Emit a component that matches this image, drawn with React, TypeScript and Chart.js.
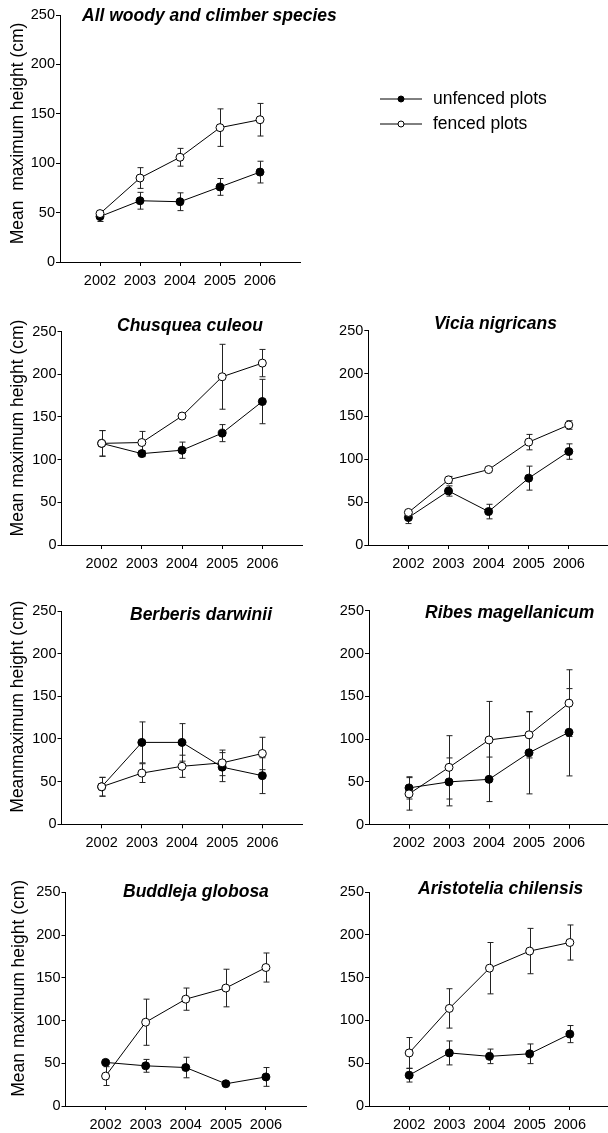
import React, { useEffect, useRef } from "react";
import { Chart, registerables } from "chart.js";

Chart.register(...registerables);
Chart.defaults.font.family = '"Liberation Sans", Arial, Helvetica, sans-serif';
Chart.defaults.color = "#000";

// ---------------- data ----------------
const years = [2002, 2003, 2004, 2005, 2006];
const xMin = 2001;
const xMax = 2007;
const yMin = 0;
const yMax = 250;
const yStep = 50;
const seriesLabels = ["unfenced plots", "fenced plots"];
const panelTitles = [
  "All woody and climber species",
  "Chusquea culeou",
  "Vicia nigricans",
  "Berberis darwinii",
  "Ribes magellanicum",
  "Buddleja globosa",
  "Aristotelia chilensis",
];
const yAxisTitles = [
  "Mean  maximum height (cm)",
  "Mean maximum height (cm)",
  "",
  "Meanmaximum height (cm)",
  "",
  "Mean maximum height (cm)",
  "",
];

const allUnfenced = [46, 62, 61, 76, 91];
const allUnfencedErr = [5, 8.5, 9, 8.5, 11];
const allFenced = [49, 85, 106, 136, 144];
const allFencedErr = [3, 10.5, 9, 19, 16.5];

const chusqueaUnfenced = [119, 107, 111, 131, 168];
const chusqueaUnfencedErr = [15, 3.5, 9.5, 10, 26];
const chusqueaFenced = [119, 120, 151, 197, 213];
const chusqueaFencedErr = [15, 13, 2, 38, 16];

const viciaUnfenced = [32, 63, 39, 78, 109];
const viciaUnfencedErr = [7, 6, 8.5, 14, 9];
const viciaFenced = [38, 76, 88, 120, 140];
const viciaFencedErr = [2, 4, 1.5, 9, 5];

const berberisUnfenced = [44, 96, 96, 67, 57];
const berberisUnfencedErr = [11, 24, 22, 17, 21];
const berberisFenced = [44, 60, 68, 72, 83];
const berberisFencedErr = [11, 11, 13, 15, 19];

const ribesUnfenced = [43, 50, 53, 84, 108];
const ribesUnfencedErr = [13, 28, 26, 48, 51];
const ribesFenced = [36, 67, 99, 105, 142];
const ribesFencedErr = [19, 37, 45, 27, 39];

const buddlejaUnfenced = [51, 47, 45, 26, 34];
const buddlejaUnfencedErr = [2, 7.5, 12, 1, 11];
const buddlejaFenced = [35, 98, 125, 138, 162];
const buddlejaFencedErr = [11, 27, 13, 22, 17];

const aristoteliaUnfenced = [36, 62, 58, 61, 84];
const aristoteliaUnfencedErr = [8, 14, 8.5, 11.5, 10];
const aristoteliaFenced = [62, 114, 161, 181, 191];
const aristoteliaFencedErr = [18, 23, 30, 26.5, 20.5];

const panelSeries = [
  [allUnfenced, allUnfencedErr, allFenced, allFencedErr],
  [chusqueaUnfenced, chusqueaUnfencedErr, chusqueaFenced, chusqueaFencedErr],
  [viciaUnfenced, viciaUnfencedErr, viciaFenced, viciaFencedErr],
  [berberisUnfenced, berberisUnfencedErr, berberisFenced, berberisFencedErr],
  [ribesUnfenced, ribesUnfencedErr, ribesFenced, ribesFencedErr],
  [buddlejaUnfenced, buddlejaUnfencedErr, buddlejaFenced, buddlejaFencedErr],
  [aristoteliaUnfenced, aristoteliaUnfencedErr, aristoteliaFenced, aristoteliaFencedErr],
];

// ---------------- layout (page px) ----------------
type Box = { L: number; T: number; R: number; B: number };
const plotBoxes: Box[] = [
  { L: 60, T: 15, R: 300, B: 262 },
  { L: 61.5, T: 331.5, R: 302.5, B: 545 },
  { L: 368.3, T: 330.7, R: 608.9, B: 545 },
  { L: 61.5, T: 611, R: 302.5, B: 824.3 },
  { L: 369, T: 610.7, R: 609, B: 824.7 },
  { L: 65.5, T: 892.3, R: 306, B: 1106 },
  { L: 369, T: 892, R: 610, B: 1106 },
];
const titleAnchors = [
  [82, 16],
  [117, 326],
  [434, 324],
  [130, 615],
  [425, 613],
  [123, 892],
  [418, 889],
];
const yTitleAnchors: (number[] | null)[] = [
  [18.3, 133.5],
  [18.3, 428],
  null,
  [18.3, 706.7],
  null,
  [19, 988.3],
  null,
];
const legendAnchor = { x1: 380, x2: 422, xm: 401, xt: 433, y: [99, 124] };

const FONT = '"Liberation Sans", Arial, Helvetica, sans-serif';

function Panel({ i }: { i: number }) {
  const ref = useRef<HTMLCanvasElement | null>(null);
  const b = plotBoxes[i];
  const cl = b.L < 304 ? 0 : 304;
  const ct = Math.floor(b.T - 22);
  const cr = i === 0 ? 608 : Math.ceil(b.R + 4);
  const cb = Math.ceil(b.B + 30);
  const cw = cr - cl;
  const ch = cb - ct;

  useEffect(() => {
    const [u, ue, f, fe] = panelSeries[i];

    const errorBars = {
      id: "errorBars" + i,
      beforeDatasetsDraw(chart: any) {
        const ctx = chart.ctx;
        const xs = chart.scales.x;
        const ys = chart.scales.y;
        ctx.save();
        ctx.strokeStyle = "#222";
        ctx.lineWidth = 1;
        chart.data.datasets.forEach((ds: any) => {
          ds.data.forEach((p: any, k: number) => {
            const e = ds.errors[k];
            const px = Math.round(xs.getPixelForValue(p.x)) + 0.5;
            const yt = ys.getPixelForValue(p.y + e);
            const yb = ys.getPixelForValue(p.y - e);
            ctx.beginPath();
            ctx.moveTo(px, yt);
            ctx.lineTo(px, yb);
            ctx.moveTo(px - 3, yt);
            ctx.lineTo(px + 3, yt);
            ctx.moveTo(px - 3, yb);
            ctx.lineTo(px + 3, yb);
            ctx.stroke();
          });
        });
        ctx.restore();
      },
    };

    const overlay = {
      id: "overlay" + i,
      afterDraw(chart: any) {
        const ctx = chart.ctx;
        ctx.save();
        ctx.fillStyle = "#000";
        ctx.textBaseline = "middle";
        // panel title
        ctx.font = "italic bold 17.5px " + FONT;
        ctx.textAlign = "left";
        ctx.fillText(panelTitles[i], titleAnchors[i][0] - cl, titleAnchors[i][1] - ct);
        // y axis title
        const yt = yTitleAnchors[i];
        if (yt && yAxisTitles[i]) {
          ctx.save();
          ctx.translate(yt[0] - cl, yt[1] - ct);
          ctx.rotate(-Math.PI / 2);
          ctx.font = "17.5px " + FONT;
          ctx.textAlign = "center";
          ctx.fillText(yAxisTitles[i], 0, 0);
          ctx.restore();
        }
        // legend
        if (i === 0) {
          chart.data.datasets.forEach((ds: any, k: number) => {
            const y = legendAnchor.y[k] - ct;
            ctx.strokeStyle = "#000";
            ctx.lineWidth = 1;
            ctx.beginPath();
            ctx.moveTo(legendAnchor.x1 - cl, y);
            ctx.lineTo(legendAnchor.x2 - cl, y);
            ctx.stroke();
            ctx.beginPath();
            ctx.arc(legendAnchor.xm - cl, y, 3, 0, Math.PI * 2);
            ctx.fillStyle = ds.pointBackgroundColor;
            ctx.fill();
            ctx.stroke();
            ctx.fillStyle = "#000";
            ctx.font = "17.5px " + FONT;
            ctx.textAlign = "left";
            ctx.fillText(ds.label, legendAnchor.xt - cl, y);
          });
        }
        ctx.restore();
      },
    };

    const common = {
      borderColor: "#000",
      borderWidth: 1,
      pointRadius: 4,
      pointHoverRadius: 4,
      pointBorderColor: "#000",
      pointBorderWidth: 1,
      fill: false,
      tension: 0,
    };

    const chart = new Chart(ref.current as HTMLCanvasElement, {
      type: "line",
      data: {
        datasets: [
          {
            ...common,
            label: seriesLabels[0],
            data: years.map((x, k) => ({ x, y: u[k] })),
            errors: ue,
            order: 1,
            pointBackgroundColor: "#000",
          } as any,
          {
            ...common,
            label: seriesLabels[1],
            data: years.map((x, k) => ({ x, y: f[k] })),
            errors: fe,
            order: 0,
            pointBackgroundColor: "#fff",
          } as any,
        ],
      },
      options: {
        animation: false,
        responsive: false,
        maintainAspectRatio: false,
        events: [],
        layout: {
          autoPadding: false,
          padding: { left: 0, top: b.T - ct, right: cr - b.R, bottom: 0 },
        },
        plugins: {
          legend: { display: false },
          tooltip: { enabled: false },
          title: { display: false },
        },
        scales: {
          x: {
            type: "linear",
            min: xMin,
            max: xMax,
            afterBuildTicks: (s: any) => {
              s.ticks = years.map((v) => ({ value: v }));
            },
            afterFit: (s: any) => {
              s.height = cb - b.B;
            },
            ticks: {
              callback: (v: any) => String(v),
              font: { size: 14.5, family: FONT },
              color: "#000",
              padding: 6,
              maxRotation: 0,
              autoSkip: false,
            },
            grid: {
              display: true,
              drawOnChartArea: false,
              drawTicks: true,
              tickLength: 4,
              color: "#000",
              lineWidth: 1,
            },
            border: { display: true, color: "#000", width: 1 },
          },
          y: {
            type: "linear",
            min: yMin,
            max: yMax,
            afterFit: (s: any) => {
              s.width = b.L - cl;
            },
            ticks: {
              stepSize: yStep,
              font: { size: 14.5, family: FONT },
              color: "#000",
              padding: 1,
            },
            grid: {
              display: true,
              drawOnChartArea: false,
              drawTicks: true,
              tickLength: 4,
              color: "#000",
              lineWidth: 1,
            },
            border: { display: true, color: "#000", width: 1 },
          },
        },
      } as any,
      plugins: [errorBars, overlay],
    });
    return () => chart.destroy();
  }, []);

  return (
    <canvas
      ref={ref}
      width={cw}
      height={ch}
      style={{ position: "absolute", left: cl, top: ct, width: cw, height: ch }}
    />
  );
}

export default function App() {
  return (
    <div
      style={{
        position: "absolute",
        left: 0,
        top: 0,
        width: 608,
        height: 1133,
        overflow: "hidden",
        background: "#fff",
      }}
    >
      {panelTitles.map((_, i) => (
        <Panel key={i} i={i} />
      ))}
    </div>
  );
}
